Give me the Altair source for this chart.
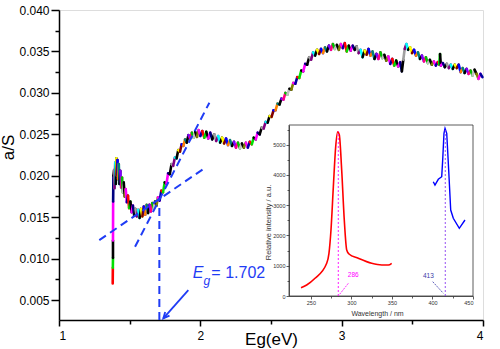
import altair as alt
import pandas as pd

# ---------------- main curve (a/S vs Eg) ----------------
eg = [1.380, 1.381, 1.382, 1.382, 1.383, 1.385, 1.390, 1.393, 1.398, 1.402,
      1.406, 1.410, 1.414, 1.418, 1.423, 1.428, 1.434, 1.440, 1.446, 1.452,
      1.458, 1.465, 1.472, 1.480, 1.488, 1.496, 1.505, 1.514, 1.523, 1.532,
      1.541, 1.550, 1.560, 1.570, 1.580, 1.590, 1.600, 1.610, 1.620, 1.630,
      1.640, 1.650, 1.660, 1.670, 1.680, 1.690, 1.700, 1.712, 1.724, 1.736,
      1.748, 1.760, 1.772, 1.784, 1.796, 1.808, 1.820, 1.832, 1.844, 1.856,
      1.868, 1.880, 1.892, 1.904, 1.916, 1.928, 1.940, 1.952, 1.964, 1.976,
      1.988, 2.000, 2.014, 2.028, 2.042, 2.056, 2.070, 2.084, 2.098, 2.112,
      2.126, 2.140, 2.154, 2.168, 2.182, 2.196, 2.210, 2.224, 2.238, 2.252,
      2.266, 2.280, 2.294, 2.308, 2.322, 2.336, 2.350, 2.364, 2.378, 2.392,
      2.406, 2.420, 2.434, 2.448, 2.462, 2.476, 2.490, 2.504, 2.518, 2.532,
      2.546, 2.560, 2.574, 2.588, 2.602, 2.616, 2.630, 2.644, 2.658, 2.672,
      2.686, 2.700, 2.714, 2.728, 2.742, 2.756, 2.770, 2.784, 2.798, 2.812,
      2.826, 2.840, 2.854, 2.868, 2.882, 2.896, 2.910, 2.924, 2.938, 2.952,
      2.966, 2.980, 2.994, 3.008, 3.022, 3.036, 3.050, 3.064, 3.078, 3.092,
      3.106, 3.120, 3.134, 3.148, 3.162, 3.176, 3.190, 3.204, 3.218, 3.232,
      3.246, 3.260, 3.274, 3.288, 3.302, 3.316, 3.330, 3.344, 3.358, 3.372,
      3.386, 3.400, 3.414, 3.426, 3.436, 3.446, 3.458, 3.470, 3.484, 3.498,
      3.512, 3.526, 3.540, 3.554, 3.568, 3.582, 3.596, 3.610, 3.624, 3.638,
      3.652, 3.666, 3.680, 3.690, 3.696, 3.702, 3.716, 3.730, 3.744, 3.758,
      3.772, 3.786, 3.800, 3.814, 3.828, 3.842, 3.856, 3.870, 3.884, 3.898,
      3.912, 3.926, 3.940, 3.954, 3.968, 3.982, 3.996]
a_s = [0.0070, 0.0089, 0.0101, 0.0122, 0.0169, 0.0200, 0.0207, 0.0185, 0.0216, 0.0190,
       0.0221, 0.0200, 0.0219, 0.0196, 0.0214, 0.0190, 0.0206, 0.0186, 0.0198, 0.0180,
       0.0192, 0.0175, 0.0184, 0.0168, 0.0176, 0.0161, 0.0169, 0.0156, 0.0164, 0.0152,
       0.0160, 0.0151, 0.0159, 0.0149, 0.0160, 0.0151, 0.0163, 0.0153, 0.0165, 0.0155,
       0.0165, 0.0157, 0.0167, 0.0160, 0.0169, 0.0164, 0.0174, 0.0170, 0.0182, 0.0180,
       0.0192, 0.0190, 0.0203, 0.0202, 0.0214, 0.0212, 0.0222, 0.0221, 0.0231, 0.0229,
       0.0238, 0.0236, 0.0244, 0.0240, 0.0249, 0.0245, 0.0252, 0.0246, 0.0253, 0.0247,
       0.0255, 0.0248, 0.0254, 0.0246, 0.0253, 0.0245, 0.0252, 0.0244, 0.0250, 0.0242,
       0.0248, 0.0240, 0.0246, 0.0239, 0.0245, 0.0237, 0.0243, 0.0236, 0.0241, 0.0234,
       0.0240, 0.0233, 0.0239, 0.0234, 0.0240, 0.0234, 0.0241, 0.0238, 0.0246, 0.0244,
       0.0252, 0.0250, 0.0258, 0.0257, 0.0265, 0.0264, 0.0272, 0.0271, 0.0279, 0.0279,
       0.0287, 0.0286, 0.0293, 0.0292, 0.0300, 0.0298, 0.0305, 0.0304, 0.0312, 0.0311,
       0.0319, 0.0318, 0.0327, 0.0326, 0.0335, 0.0334, 0.0343, 0.0340, 0.0349, 0.0345,
       0.0352, 0.0347, 0.0353, 0.0348, 0.0355, 0.0350, 0.0357, 0.0352, 0.0359, 0.0353,
       0.0358, 0.0352, 0.0359, 0.0354, 0.0360, 0.0350, 0.0357, 0.0351, 0.0357, 0.0352,
       0.0356, 0.0348, 0.0352, 0.0343, 0.0351, 0.0346, 0.0353, 0.0345, 0.0350, 0.0341,
       0.0347, 0.0341, 0.0349, 0.0342, 0.0346, 0.0339, 0.0344, 0.0335, 0.0341, 0.0333,
       0.0339, 0.0332, 0.0337, 0.0326, 0.0340, 0.0353, 0.0359, 0.0352, 0.0355, 0.0348,
       0.0352, 0.0345, 0.0349, 0.0341, 0.0345, 0.0338, 0.0343, 0.0336, 0.0340, 0.0334,
       0.0338, 0.0333, 0.0337, 0.0334, 0.0347, 0.0333, 0.0336, 0.0331, 0.0335, 0.0330,
       0.0334, 0.0329, 0.0334, 0.0330, 0.0334, 0.0325, 0.0330, 0.0324, 0.0329, 0.0323,
       0.0327, 0.0321, 0.0328, 0.0323, 0.0317, 0.0323, 0.0319]

palette = ["#ff0000", "#00e000", "#000000", "#ff00ff", "#000080", "#000000",
           "#a0a0a0", "#800080", "#00ffff", "#000000", "#ffff00", "#800000",
           "#0000ff", "#ff8000", "#008080", "#000000", "#8000ff", "#ff0080",
           "#00c000", "#c0c0c0", "#000000", "#808000", "#ff00ff", "#0000a0"]

# tangent / guide lines (Eg, a/S)
tan_x1 = [1.538, 1.285]
tan_y1 = [0.01143, 0.01224]
tan_x2 = [2.064, 2.017]
tan_y2 = [0.02882, 0.02077]
vline_x = [1.710]
vline_y1 = [0.0161]
vline_y2 = [0.0026]
arrow_x1 = [1.915]
arrow_y1 = [0.00621]
arrow_x2 = [1.738]
arrow_y2 = [0.00279]

# annotation text
eg_text_x = [1.946, 2.023, 2.078]
eg_text_y = [0.00767, 0.00682, 0.00767]
eg_text = ["E", "g", "= 1.702"]

# ---------------- inset (spectra) ----------------
red_nm = [237.8, 244.8, 255.1, 269.5, 272.3, 274.8, 277.7, 280.6, 283.1, 285.1,
          288.0, 291.2, 294.2, 297.0, 308.5, 325.0, 337.4, 345.5, 349.7]
red_int = [274, 363, 585, 1080, 1411, 2181, 3611, 4933, 5428, 5319,
           4163, 2511, 1520, 1388, 1246, 1080, 1024, 1024, 1080]
blue_nm = [401.0, 403.1, 407.2, 411.4, 412.6, 414.2, 415.5, 417.6, 420.0, 422.5,
           425.7, 433.1, 440.1]
blue_int = [3776, 3667, 3856, 3942, 4493, 5376, 5541, 5376, 4163, 2841,
            2567, 2237, 2511]
peak_nm = [283.8, 415.8]
peak_top = [5440, 5540]
peak_colors = ["#ff00ff", "#8a3cf0"]
peak_labels = ["286", "413"]
label_nm = [302.3, 394.9]
label_int = [690, 660]
label_colors = ["#ff00ff", "#3a3aa8"]
pointer_nm1 = [296.2, 400.3]
pointer_int1 = [420, 473]
pointer_nm2 = [285.6, 413.4]
pointer_int2 = [60, 89]

FONT = "Liberation Sans"
BLUE = "#1f3cf5"

MX_DOM = [1, 4]
MY_DOM = [0.0026, 0.040]
IX_DOM = [223, 450]
IY_DOM = [0, 5650]
W, H = 424, 310


def mx(field, axis=None):
    return alt.X(field, type="quantitative",
                 scale=alt.Scale(domain=MX_DOM, nice=False, zero=False), axis=axis)


def my(field, axis=None):
    return alt.Y(field, type="quantitative",
                 scale=alt.Scale(domain=MY_DOM, nice=False, zero=False), axis=axis)


def ix(field, axis=None):
    return alt.X(field, type="quantitative",
                 scale=alt.Scale(domain=IX_DOM, range=[230, 414], nice=False, zero=False),
                 axis=axis)


def iy(field, axis=None):
    return alt.Y(field, type="quantitative",
                 scale=alt.Scale(domain=IY_DOM, range=[286, 115], nice=False, zero=False),
                 axis=axis)


common_axis = dict(domainColor="black", tickColor="black", labelColor="black",
                   titleColor="black", labelFont=FONT, titleFont=FONT,
                   titleFontWeight="normal", grid=False)

main_x_axis = alt.Axis(orient="bottom", values=[1, 2, 3, 4], format="d", tickSize=6,
                       tickWidth=1.5, domainWidth=1.5, labelFontSize=12, labelPadding=4,
                       title="Eg(eV)", titleFontSize=17, titleBaseline="middle",
                       titleY=19, titleX=212, **common_axis)
main_y_axis = alt.Axis(orient="left",
                       values=[0.005, 0.010, 0.015, 0.020, 0.025, 0.030, 0.035, 0.040],
                       format=".3f", tickSize=8, tickWidth=1.5, domainWidth=1.5,
                       labelFontSize=12, labelPadding=2, title="a/S", titleFontSize=17,
                       titleX=-42, titleY=137, **common_axis)
minor_x_axis = alt.Axis(orient="bottom", values=[1.5, 2.5, 3.5], tickSize=4, tickWidth=1.5,
                        labels=False, domain=False, title="", **common_axis)
minor_y_axis = alt.Axis(orient="left",
                        values=[0.0075, 0.0125, 0.0175, 0.0225, 0.0275, 0.0325, 0.0375],
                        tickSize=4, tickWidth=1.5, labels=False, domain=False, title="",
                        **common_axis)

inset_common = dict(domainColor="#333333", tickColor="#333333", labelColor="#333333",
                    titleColor="#333333", labelFont=FONT, titleFont=FONT,
                    titleFontWeight="normal", grid=False, zindex=1)
inset_x_axis = alt.Axis(orient="bottom", offset=-24, values=[250, 300, 350, 400, 450],
                        format="d", tickSize=3, tickWidth=0.8, domainWidth=0.8,
                        labelFontSize=5.5, labelPadding=1, title="Wavelength / nm",
                        titleFontSize=7, titleBaseline="middle", titleX=318, titleY=17,
                        **inset_common)
inset_y_axis = alt.Axis(orient="left", offset=-230,
                        values=[0, 1000, 2000, 3000, 4000, 5000], format="d",
                        tickSize=3, tickWidth=0.8, domainWidth=0.8, labelFontSize=5.5,
                        labelPadding=1, title="Relative intensity / a.u.",
                        titleFontSize=7.5, titleX=-17, titleY=212, **inset_common)
inset_minor_x = alt.Axis(orient="bottom", offset=-24, values=[275, 325, 375, 425],
                         tickSize=2, tickWidth=0.8, labels=False, domain=False, title="",
                         **inset_common)
inset_minor_y = alt.Axis(orient="left", offset=-230,
                         values=[500, 1500, 2500, 3500, 4500, 5500], tickSize=2,
                         tickWidth=0.8, labels=False, domain=False, title="",
                         **inset_common)

# ---- build tables from the lists ----
seg = pd.DataFrame({
    "x": eg[:-1], "y": a_s[:-1], "x2": eg[1:], "y2": a_s[1:],
    "c": [palette[i % len(palette)] for i in range(len(eg) - 1)],
})
tan_df = pd.DataFrame({"x": tan_x1, "y": tan_y1, "x2": tan_x2, "y2": tan_y2})
vl_df = pd.DataFrame({"x": vline_x, "y": vline_y1, "y2": vline_y2})
arr_df = pd.DataFrame({"x": arrow_x1, "y": arrow_y1, "x2": arrow_x2, "y2": arrow_y2})
head_df = pd.DataFrame({"x": arrow_x2, "y": arrow_y2})
txt_df = pd.DataFrame({"x": eg_text_x, "y": eg_text_y, "t": eg_text})

red_df = pd.DataFrame({"x": red_nm, "y": red_int})
blue_df = pd.DataFrame({"x": blue_nm, "y": blue_int})
frame_df = pd.DataFrame({"x": [IX_DOM[0]], "x2": [IX_DOM[1]], "y": [IY_DOM[0]], "y2": [IY_DOM[1]]})
peak_df = pd.DataFrame({"x": peak_nm, "y": [0, 0], "y2": peak_top, "c": peak_colors})
lab_df = pd.DataFrame({"x": label_nm, "y": label_int, "t": peak_labels, "c": label_colors})
ptr_df = pd.DataFrame({"x": pointer_nm1, "y": pointer_int1, "x2": pointer_nm2,
                       "y2": pointer_int2, "c": label_colors})

curve = alt.Chart(seg).mark_rule(strokeWidth=2.6, strokeCap="round").encode(
    x=mx("x", main_x_axis), y=my("y", main_y_axis), x2="x2", y2="y2",
    color=alt.Color("c:N", scale=None))

tangents = alt.Chart(tan_df).mark_rule(color=BLUE, strokeWidth=2, strokeDash=[8, 5]).encode(
    x=mx("x", minor_x_axis), y=my("y", minor_y_axis), x2="x2", y2="y2")

vline = alt.Chart(vl_df).mark_rule(color=BLUE, strokeWidth=2, strokeDash=[8, 5]).encode(
    x=mx("x"), y=my("y"), y2="y2")

arrow = alt.Chart(arr_df).mark_rule(color=BLUE, strokeWidth=1.8).encode(
    x=mx("x"), y=my("y"), x2="x2", y2="y2")

head = alt.Chart(head_df).mark_point(
    shape="M -0.6 1.3 L 0 0 L 0.6 1.3", angle=221, size=90, filled=False,
    color=BLUE, strokeWidth=1.8, opacity=1).encode(x=mx("x"), y=my("y"))

txt_E = alt.Chart(txt_df[txt_df.t == "E"]).mark_text(
    align="left", baseline="alphabetic", font=FONT, fontStyle="italic", fontSize=16,
    color=BLUE).encode(x=mx("x"), y=my("y"), text="t:N")
txt_g = alt.Chart(txt_df[txt_df.t == "g"]).mark_text(
    align="left", baseline="alphabetic", font=FONT, fontStyle="italic", fontSize=12,
    color=BLUE).encode(x=mx("x"), y=my("y"), text="t:N")
txt_v = alt.Chart(txt_df[txt_df.t == "= 1.702"]).mark_text(
    align="left", baseline="alphabetic", font=FONT, fontSize=16,
    color=BLUE).encode(x=mx("x"), y=my("y"), text="t:N")

frame = alt.Chart(frame_df).mark_rect(fillOpacity=0, stroke="#333333", strokeWidth=0.8).encode(
    x=ix("x", inset_x_axis), x2="x2", y=iy("y", inset_y_axis), y2="y2")

red_line = alt.Chart(red_df).mark_line(color="#ff0000", strokeWidth=1.6, interpolate="monotone").encode(
    x=ix("x", inset_minor_x), y=iy("y", inset_minor_y))
blue_line = alt.Chart(blue_df).mark_line(color="#0000ff", strokeWidth=1.4).encode(
    x=ix("x"), y=iy("y"))
peaks = alt.Chart(peak_df).mark_rule(strokeWidth=0.9, strokeDash=[2, 2]).encode(
    x=ix("x"), y=iy("y"), y2="y2", color=alt.Color("c:N", scale=None))
pointers = alt.Chart(ptr_df).mark_rule(strokeWidth=0.8, strokeDash=[2, 1]).encode(
    x=ix("x"), y=iy("y"), x2="x2", y2="y2", color=alt.Color("c:N", scale=None))
labels = alt.Chart(lab_df).mark_text(font=FONT, fontSize=6.5, align="center",
                                     baseline="middle").encode(
    x=ix("x"), y=iy("y"), text="t:N", color=alt.Color("c:N", scale=None))

chart = alt.layer(
    curve, tangents, vline, arrow, head, txt_E, txt_g, txt_v,
    frame, red_line, blue_line, peaks, pointers, labels
).resolve_scale(x="independent", y="independent").properties(
    width=W, height=H,
    autosize=alt.AutoSizeParams(type="none"),
    padding={"left": 59, "top": 10, "right": 17, "bottom": 29},
).configure_view(stroke="black", strokeWidth=1.5).configure(background="white")

chart.save("out.html", embed_options={"renderer": "svg", "actions": False})
